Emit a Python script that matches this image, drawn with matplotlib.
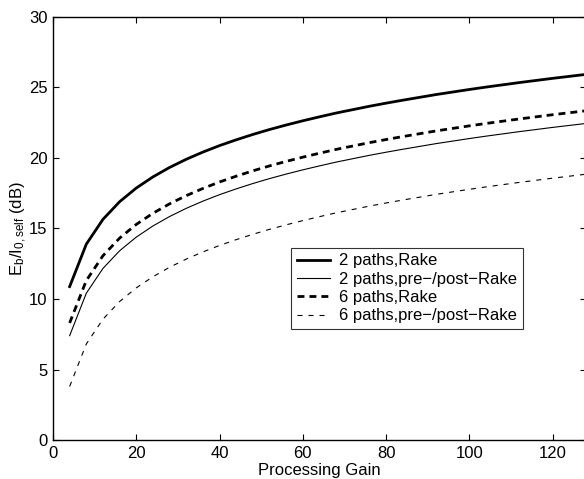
import matplotlib
matplotlib.use("Agg")
import matplotlib.pyplot as plt

plt.rcParams['font.family'] = ['Liberation Sans', 'DejaVu Sans']
plt.rcParams['mathtext.fontset'] = 'custom'
plt.rcParams['mathtext.rm'] = 'Liberation Sans'
plt.rcParams['mathtext.it'] = 'Liberation Sans'

gain = [4, 8, 12, 16, 20, 24, 28, 32, 36, 40, 44, 48, 52, 56, 60, 64,
        68, 72, 76, 80, 84, 88, 92, 96, 100, 104, 108, 112, 116, 120, 124, 128]

rake_2 = [10.88, 13.89, 15.65, 16.90, 17.87, 18.66, 19.33, 19.91, 20.42, 20.88, 21.29, 21.67, 22.02, 22.34, 22.64, 22.92,
          23.19, 23.43, 23.67, 23.89, 24.10, 24.30, 24.50, 24.68, 24.86, 25.03, 25.19, 25.35, 25.50, 25.65, 25.79, 25.93]
prepost_2 = [7.40, 10.41, 12.17, 13.42, 14.39, 15.18, 15.85, 16.43, 16.94, 17.40, 17.81, 18.19, 18.54, 18.86, 19.16, 19.44,
             19.71, 19.95, 20.19, 20.41, 20.62, 20.82, 21.02, 21.20, 21.38, 21.55, 21.71, 21.87, 22.02, 22.17, 22.31, 22.45]
rake_6 = [8.30, 11.31, 13.07, 14.32, 15.29, 16.08, 16.75, 17.33, 17.84, 18.30, 18.71, 19.09, 19.44, 19.76, 20.06, 20.34,
          20.61, 20.85, 21.09, 21.31, 21.52, 21.72, 21.92, 22.10, 22.28, 22.45, 22.61, 22.77, 22.92, 23.07, 23.21, 23.35]
prepost_6 = [3.80, 6.81, 8.57, 9.82, 10.79, 11.58, 12.25, 12.83, 13.34, 13.80, 14.21, 14.59, 14.94, 15.26, 15.56, 15.84,
             16.11, 16.35, 16.59, 16.81, 17.02, 17.22, 17.42, 17.60, 17.78, 17.95, 18.11, 18.27, 18.42, 18.57, 18.71, 18.85]

labels = ['2 paths,Rake', '2 paths,pre\u2212/post\u2212Rake',
          '6 paths,Rake', '6 paths,pre\u2212/post\u2212Rake']
xticks = [0, 20, 40, 60, 80, 100, 120]
yticks = [0, 5, 10, 15, 20, 25, 30]

fig = plt.figure(figsize=(5.84, 4.79), dpi=100)
ax = fig.add_axes([53 / 584, 1 - 440 / 479, 533 / 584, 423 / 479])

ax.plot(gain, rake_2, color='black', lw=2.0, label=labels[0])
ax.plot(gain, prepost_2, color='black', lw=0.8, label=labels[1])
ax.plot(gain, rake_6, color='black', lw=2.0, dashes=(2.5, 1.8), label=labels[2])
ax.plot(gain, prepost_6, color='black', lw=0.8, dashes=(4.5, 5.4), label=labels[3])

ax.set_xlim(0, 128)
ax.set_ylim(0, 30)
ax.set_xticks(xticks)
ax.set_yticks(yticks)
ax.tick_params(direction='in', top=True, right=True, labelsize=12, length=4, width=0.8, pad=4)
for s in ax.spines.values():
    s.set_linewidth(1.0)

ax.set_xlabel('Processing Gain', fontsize=12, labelpad=2)
ax.set_ylabel(r'$\mathrm{E_b/I_{0,self}}$ (dB)', fontsize=12, labelpad=0)

leg = ax.legend(loc='lower left', bbox_to_anchor=(0.4465, 0.262), fontsize=12,
                frameon=True, fancybox=False, shadow=False, borderpad=0.35,
                labelspacing=0.2, handlelength=2.0, handletextpad=0.55, borderaxespad=0)
leg.get_frame().set_edgecolor('black')
leg.get_frame().set_linewidth(0.8)

fig.savefig('out.png', dpi=100)
